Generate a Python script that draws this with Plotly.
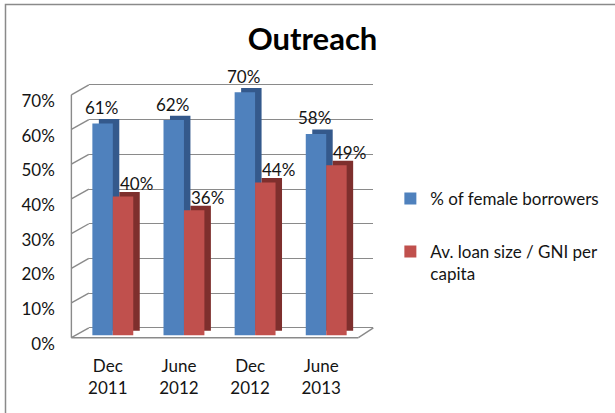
import plotly.graph_objects as go

# ---------------- data ----------------
categories = ["Dec<br>2011", "June<br>2012", "Dec<br>2012", "June<br>2013"]
female_share = [0.61, 0.62, 0.70, 0.58]
loan_gni = [0.40, 0.36, 0.44, 0.49]
series_names = ["% of female borrowers", "Av. loan size / GNI per<br>capita"]
y_tickvals = [0.0, 0.1, 0.2, 0.3, 0.4, 0.5, 0.6, 0.7]
y_ticktext = ["0%", "10%", "20%", "30%", "40%", "50%", "60%", "70%"]
chart_title = "Outreach"

# ---------------- style / geometry ----------------
W, H = 615, 413
FONT = "Lato"
TEXT_COLOR = "#141414"
front_colors = ["#4F81BD", "#C0504D"]
side_colors = ["#34598C", "#7E2F2D"]
GRID = "#8A8A8A"

WALL_L, WALL_R = 88, 373      # back wall horizontal extent (px)
PLOT_T, PLOT_B = 70, 352      # plotting domain (px)
PPU = 353.0                   # px per 1.0 (=100 %)
CAT = (WALL_R - WALL_L) / len(categories)
FRONT_X0 = 112                # px centre of first category, front plane
FRONT_Y0 = 341                # px of 0 %, front plane
DEPTH_DX, DEPTH_DY = 6.5, 4.5 # bar depth (side face)
WALL_Y0 = 333.5               # px of 0 % on back wall
LEFT_FRONT_X = 70.5           # front edge of left side wall
FLOOR_DY = 10.0               # floor depth (vertical)
RIGHT_DX = 15.0
BARGAP = 0.425


def xrange_for(center0_px):
    r0 = -(center0_px - WALL_L) / CAT
    return [r0, r0 + len(categories)]


def yrange_for(zero_px):
    r0 = -(PLOT_B - zero_px) / PPU
    return [r0, r0 + (PLOT_B - PLOT_T) / PPU]


def paper(px, py):
    return px / W, 1 - py / H


shadow_xr = xrange_for(FRONT_X0 + DEPTH_DX)
shadow_yr = yrange_for(FRONT_Y0 - DEPTH_DY)
front_xr = xrange_for(FRONT_X0)
front_yr = yrange_for(FRONT_Y0)

# wall gridline positions expressed on the (shadow) main axis
wall_px = [WALL_Y0 - t * PPU for t in y_tickvals]
grid_vals = [shadow_yr[0] + (PLOT_B - p) / PPU for p in wall_px]

series = [female_share, loan_gni]

fig = go.Figure()
# side faces (drawn first, underneath)
for vals, col in zip(series, side_colors):
    fig.add_trace(go.Bar(x=categories, y=vals, marker=dict(color=col, line=dict(width=0)),
                         xaxis="x", yaxis="y", showlegend=False, hoverinfo="skip"))
# front faces
for i, (vals, col, name) in enumerate(zip(series, front_colors, series_names)):
    fig.add_trace(go.Bar(x=categories, y=vals, name=name, legendgroup=f"g{i}",
                         marker=dict(color=col, line=dict(width=0)),
                         xaxis="x2", yaxis="y2"))

# data labels
w = 1 - BARGAP
annotations = []
for i, v in enumerate(female_share):
    annotations.append(dict(x=i - w / 4, y=v, xref="x2", yref="y2", text=f"{round(v*100)}%",
                            showarrow=False, yanchor="middle", yshift=16, xshift=-1,
                            font=dict(family=FONT, size=17, color=TEXT_COLOR)))
for i, v in enumerate(loan_gni):
    annotations.append(dict(x=i + w / 4, y=v, xref="x2", yref="y2", text=f"{round(v*100)}%",
                            showarrow=False, yanchor="middle", yshift=13, xshift=13,
                            font=dict(family=FONT, size=17, color=TEXT_COLOR)))

# 3-D frame decoration: left side wall + floor
shapes = []
def seg(p0, p1):
    (x0, y0), (x1, y1) = paper(*p0), paper(*p1)
    shapes.append(dict(type="line", xref="paper", yref="paper", x0=x0, y0=y0, x1=x1, y1=y1,
                       line=dict(color=GRID, width=1.4), layer="below"))

for p in wall_px:
    seg((LEFT_FRONT_X, p + FLOOR_DY), (WALL_L, p))
seg((LEFT_FRONT_X, wall_px[0] + FLOOR_DY), (LEFT_FRONT_X, wall_px[-1] + FLOOR_DY))
seg((LEFT_FRONT_X, WALL_Y0 + FLOOR_DY), (WALL_R - RIGHT_DX, WALL_Y0 + FLOOR_DY))
seg((WALL_R - RIGHT_DX, WALL_Y0 + FLOOR_DY), (WALL_R, WALL_Y0))

# outer frame (left and top edges visible)
bx, by = paper(4.5, 4.5)
shapes.append(dict(type="rect", xref="paper", yref="paper", x0=bx, y0=-0.2, x1=1.2, y1=by,
                   line=dict(color="#8a8a8a", width=1.5), fillcolor="rgba(0,0,0,0)", layer="below"))

ydom = [(H - PLOT_B) / H, (H - PLOT_T) / H]
xdom = [WALL_L / W, WALL_R / W]
tickfont = dict(family=FONT, size=17, color=TEXT_COLOR)

fig.update_layout(
    width=W, height=H, autosize=False,
    margin=dict(l=0, r=0, t=0, b=0),
    paper_bgcolor="white", plot_bgcolor="rgba(0,0,0,0)",
    barmode="group", bargap=BARGAP, bargroupgap=0,
    hovermode=False,
    title=dict(text=chart_title, x=312 / W, xanchor="center", xref="paper",
               y=1 - 39.5 / H, yanchor="middle", yref="paper",
               font=dict(family=FONT, size=31, color="black", weight="bold")),
    xaxis=dict(domain=xdom, type="category", range=shadow_xr, showticklabels=False,
               showgrid=False, zeroline=False, showline=False, anchor="y"),
    yaxis=dict(domain=ydom, range=shadow_yr, tickvals=grid_vals, ticktext=y_ticktext,
               showgrid=True, gridcolor=GRID, gridwidth=1.4, zeroline=False, showline=False,
               ticks="", ticklabelshift=16, ticklabelstandoff=33,
               tickfont=tickfont, anchor="x"),
    xaxis2=dict(overlaying="x", anchor="y2", type="category", range=front_xr,
                showgrid=False, zeroline=False, showline=False, ticks="",
                tickfont=tickfont, ticklabelshift=-5, ticklabelstandoff=8),
    yaxis2=dict(overlaying="y", anchor="x2", range=front_yr, showgrid=False,
                zeroline=False, showline=False, showticklabels=False),
    legend=dict(x=390 / W, xanchor="left", y=1 - 184 / H, yanchor="top",
                font=dict(family=FONT, size=17, color=TEXT_COLOR),
                traceorder="grouped", tracegroupgap=28, valign="top",
                bgcolor="rgba(0,0,0,0)"),
    annotations=annotations,
    shapes=shapes,
)

fig.write_html("out.html", config={"displayModeBar": False},
               post_script="document.body.style.margin='0';")
